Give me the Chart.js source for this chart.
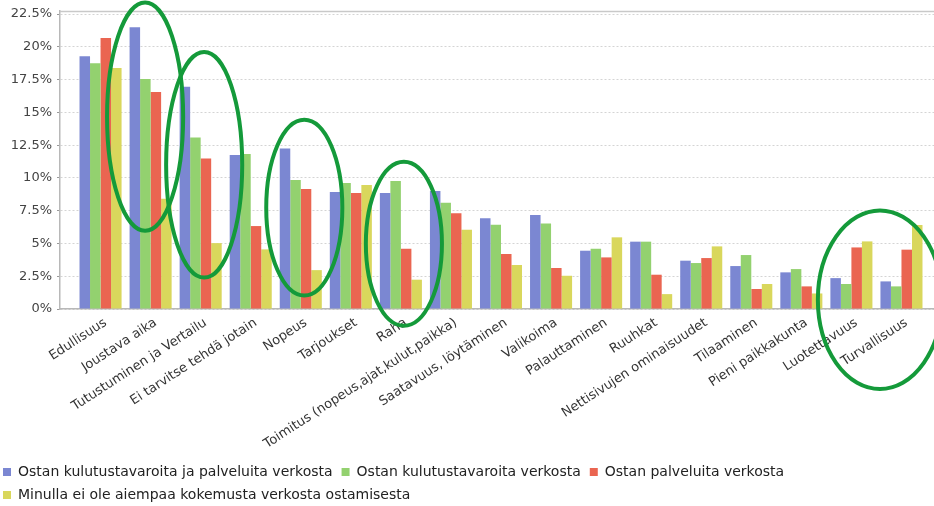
<!DOCTYPE html>
<html>
<head>
<meta charset="utf-8">
<script src="https://cdn.jsdelivr.net/npm/chart.js@4"></script>
<style>
html,body{margin:0;padding:0;background:#fff;}
#wrap{width:934px;height:506px;position:relative;}
</style>
</head>
<body>
<div id="wrap"><canvas id="c" width="934" height="506"></canvas></div>
<script>
const categories = [
  "Edullisuus", "Joustava aika", "Tutustuminen ja Vertailu", "Ei tarvitse tehdä jotain",
  "Nopeus", "Tarjoukset", "Raha", "Toimitus (nopeus,ajat,kulut,paikka)",
  "Saatavuus, löytäminen", "Valikoima", "Palauttaminen", "Ruuhkat",
  "Nettisivujen ominaisuudet", "Tilaaminen", "Pieni paikkakunta", "Luotettavuus", "Turvallisuus"
];
const seriesNames = [
  "Ostan kulutustavaroita ja palveluita verkosta",
  "Ostan kulutustavaroita verkosta",
  "Ostan palveluita verkosta",
  "Minulla ei ole aiempaa kokemusta verkosta ostamisesta"
];
const bothOnline   = [19.27, 21.5, 16.96, 11.75, 12.25, 8.92, 8.85, 9.0, 6.92, 7.17, 4.45, 5.14, 3.69, 3.28, 2.80, 2.36, 2.11];
const goodsOnline  = [18.74, 17.54, 13.09, 11.82, 9.84, 9.61, 9.76, 8.11, 6.43, 6.53, 4.60, 5.14, 3.51, 4.12, 3.05, 1.91, 1.73];
const servOnline   = [20.67, 16.55, 11.49, 6.33, 9.15, 8.85, 4.60, 7.30, 4.20, 3.13, 3.94, 2.62, 3.89, 1.53, 1.73, 4.70, 4.53];
const noExperience = [18.38, 8.42, 5.03, 4.55, 2.97, 9.46, 2.24, 6.05, 3.36, 2.54, 5.47, 1.14, 4.78, 1.91, 1.19, 5.16, 6.41];
const yTicks = [0, 2.5, 5, 7.5, 10, 12.5, 15, 17.5, 20, 22.5];
const yMax = 22.73;
const xMin = -0.81;
const xMax = 16.65;
// hand-drawn highlight ellipses, in category index / value units
const highlights = [
  {x: 0.89, y: 14.67, rx: 0.76, ry: 8.7},
  {x: 2.07, y: 11.0, rx: 0.76, ry: 8.6},
  {x: 4.07, y: 7.73, rx: 0.76, ry: 6.7},
  {x: 6.06, y: 4.98, rx: 0.76, ry: 6.25},
  {x: 15.57, y: 0.71, rx: 1.24, ry: 6.8}
];

const colors = ['#7b87d2', '#93d16f', '#ea6551', '#d9d75c'];
const seriesValues = [bothOnline, goodsOnline, servOnline, noExperience];

const frame = {
  id: 'frame',
  afterLayout(chart) {
    if (chart.legend) { chart.legend.left -= 6; chart.legend.right -= 6; }
  },
  afterDraw(chart) {
    const {ctx, chartArea: a, scales} = chart;
    ctx.save();
    ctx.strokeStyle = '#c9c9c9';
    ctx.lineWidth = 1.5;
    ctx.beginPath();
    ctx.moveTo(a.left, a.top + 0.5);
    ctx.lineTo(a.right, a.top + 0.5);
    ctx.stroke();
    // highlight ellipses
    ctx.strokeStyle = '#149a3a';
    ctx.lineWidth = 4;
    highlights.forEach(h => {
      const cx = scales.x.getPixelForValue(h.x);
      const cy = scales.y.getPixelForValue(h.y);
      const rx = Math.abs(scales.x.getPixelForValue(h.x + h.rx) - cx);
      const ry = Math.abs(scales.y.getPixelForValue(h.y + h.ry) - cy);
      ctx.beginPath();
      ctx.ellipse(cx, cy, rx, ry, 0, 0, Math.PI * 2);
      ctx.stroke();
    });
    ctx.restore();
  }
};

new Chart(document.getElementById('c'), {
  type: 'bar',
  data: {
    datasets: seriesValues.map((vals, k) => ({
      label: seriesNames[k],
      data: vals.map((v, i) => ({x: i, y: v})),
      backgroundColor: colors[k],
      borderWidth: 0,
      categoryPercentage: 0.84,
      barPercentage: 1.0
    }))
  },
  options: {
    responsive: false,
    animation: false,
    layout: {padding: {top: 11, left: 0, right: 0, bottom: -6}},
    plugins: {
      legend: {
        position: 'bottom',
        align: 'start',
        labels: {
          boxWidth: 8, boxHeight: 8, padding: 9,
          color: '#222',
          font: {family: 'DejaVu Sans', size: 14}
        }
      },
      tooltip: {enabled: false}
    },
    scales: {
      x: {
        type: 'linear',
        offset: false,
        min: xMin, max: xMax,
        afterBuildTicks(scale) { scale.ticks = categories.map((c, i) => ({value: i})); },
        afterFit(scale) { scale.paddingLeft = 0; scale.paddingRight = 0; scale.height -= 2; },
        grid: {display: true, offset: false, drawOnChartArea: false, drawTicks: false},
        border: {display: true, color: '#b8b8b8', width: 1.5},
        ticks: {
          autoSkip: false,
          minRotation: 33, maxRotation: 33,
          padding: 6,
          labelOffset: 5,
          color: '#333',
          font: {family: 'DejaVu Sans', size: 13},
          callback: (v) => categories[v]
        }
      },
      y: {
        min: 0, max: yMax,
        afterBuildTicks(scale) { scale.ticks = yTicks.map(v => ({value: v})); },
        afterFit(scale) { scale.width = 60; scale.paddingTop = 0; },
        grid: {color: '#d4d4d4', tickLength: 3, tickColor: '#999', tickBorderDash: []},
        border: {display: true, color: '#b8b8b8', width: 1.5, dash: [2, 2]},
        ticks: {
          padding: 5,
          color: '#444',
          font: {family: 'DejaVu Sans', size: 13},
          callback: (v) => v + '%'
        }
      }
    }
  },
  plugins: [frame]
});
</script>
</body>
</html>
